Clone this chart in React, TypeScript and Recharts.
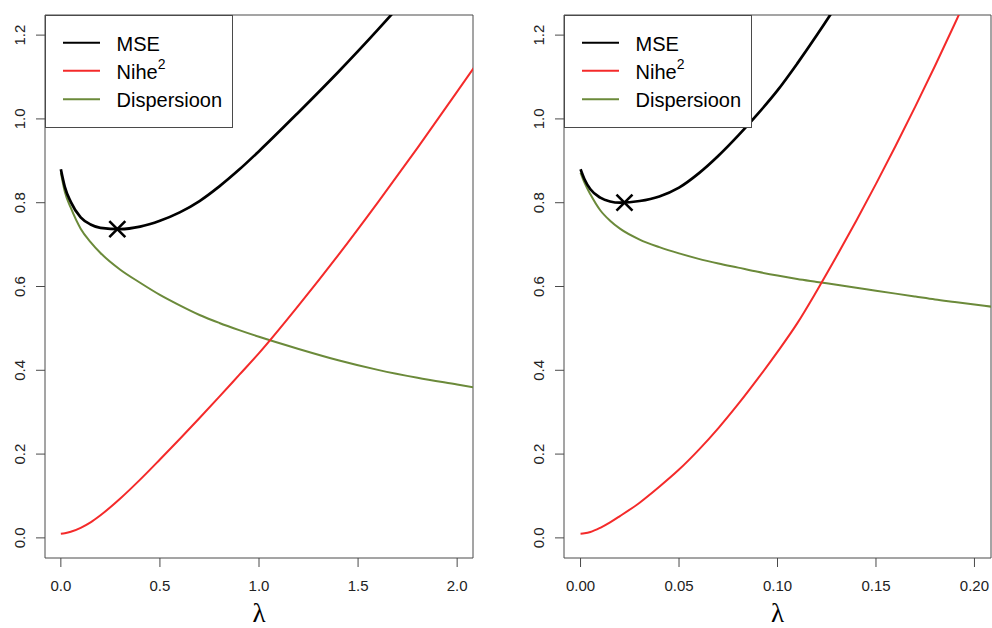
import {
  LineChart,
  Line,
  XAxis,
  YAxis,
  Legend,
  ReferenceArea,
  ReferenceDot,
} from 'recharts'

// lambda grid and curves
const lamLeft = [0, 0.02, 0.05, 0.1, 0.15, 0.2, 0.3, 0.4, 0.5, 0.6, 0.7, 0.8, 0.9, 1.0, 1.2, 1.4, 1.6, 1.8, 2.0, 2.1]
const mseLeft = [0.88, 0.838, 0.802, 0.765, 0.748, 0.74, 0.737, 0.743, 0.757, 0.777, 0.804, 0.839, 0.879, 0.923, 1.016, 1.112, 1.213, 1.32, 1.432, 1.49]
const biasLeft = [0.01, 0.0113, 0.0145, 0.024, 0.037, 0.054, 0.094, 0.139, 0.187, 0.236, 0.286, 0.337, 0.389, 0.441, 0.555, 0.675, 0.801, 0.931, 1.065, 1.133]
const dispLeft = [0.872, 0.826, 0.788, 0.738, 0.706, 0.68, 0.64, 0.609, 0.58, 0.555, 0.532, 0.513, 0.496, 0.48, 0.451, 0.424, 0.401, 0.382, 0.366, 0.358]

// right panel (smaller lambda range)
const lamRight = [0, 0.002, 0.005, 0.01, 0.015, 0.02, 0.03, 0.04, 0.05, 0.06, 0.07, 0.08, 0.09, 0.1, 0.11, 0.12, 0.13, 0.14, 0.15, 0.16, 0.17, 0.18, 0.19, 0.2, 0.21]
const mseRight = [0.88, 0.856, 0.832, 0.812, 0.803, 0.8, 0.804, 0.815, 0.836, 0.87, 0.912, 0.96, 1.012, 1.068, 1.132, 1.2, 1.272, 1.35, 1.432, 1.519, 1.606, 1.696, 1.79, 1.887, 1.987]
const biasRight = [0.01, 0.011, 0.014, 0.024, 0.037, 0.052, 0.084, 0.122, 0.163, 0.21, 0.262, 0.319, 0.38, 0.444, 0.512, 0.59, 0.672, 0.757, 0.845, 0.936, 1.03, 1.127, 1.227, 1.33, 1.436]
const dispRight = [0.872, 0.848, 0.82, 0.782, 0.757, 0.738, 0.712, 0.694, 0.679, 0.666, 0.655, 0.645, 0.635, 0.626, 0.618, 0.611, 0.604, 0.597, 0.59, 0.583, 0.576, 0.569, 0.563, 0.557, 0.551]

const xTicksLeft = [0, 0.5, 1.0, 1.5, 2.0]
const xTicksRight = [0, 0.05, 0.1, 0.15, 0.2]
const yTicks = [0, 0.2, 0.4, 0.6, 0.8, 1.0, 1.2]

// minimum MSE markers
const minLeft = { lam: 0.285, mse: 0.737 }
const minRight = { lam: 0.0223, mse: 0.8 }

const seriesNames = ['MSE', 'Nihe', 'Dispersioon']
const seriesColors = ['#000000', '#f42a2a', '#6b8a3a']

const FONT = '"Liberation Sans", Arial, sans-serif'
const FRAME = '#4a4a4a'

function makeRows(lam: number[], mse: number[], bias: number[], disp: number[]) {
  return lam.map((l, i) => ({ lam: l, mse: mse[i], bias: bias[i], disp: disp[i] }))
}

const YTick = (props: any) => {
  const { x, y, payload } = props
  return (
    <text
      x={0}
      y={0}
      transform={`translate(${x - 11},${y}) rotate(-90)`}
      textAnchor="middle"
      fontSize={15}
      fontFamily={FONT}
      fill="#222"
    >
      {Number(payload.value).toFixed(1)}
    </text>
  )
}

const Cross = (props: any) => {
  const { cx, cy } = props
  const s = 8
  return (
    <path
      d={`M${cx - s},${cy - s}L${cx + s},${cy + s}M${cx - s},${cy + s}L${cx + s},${cy - s}`}
      stroke="#000"
      strokeWidth={2.6}
      fill="none"
    />
  )
}

const LegendBox = () => {
  const rows = [27.7, 55.7, 84.3]
  return (
    <div style={{ width: 188, height: 113, background: '#fff', border: `1px solid ${FRAME}`, boxSizing: 'border-box' }}>
      <svg width={188} height={113} style={{ display: 'block', marginLeft: -1, marginTop: -1 }}>
        {seriesNames.map((name, i) => (
          <g key={name}>
            <line x1={18} x2={55} y1={rows[i]} y2={rows[i]} stroke={seriesColors[i]} strokeWidth={2} />
            <text x={71.5} y={rows[i] + 8} fontSize={20} fontFamily={FONT} fill="#000">
              {name}
              {name === 'Nihe' && (
                <tspan fontSize={14} dy={-10}>2</tspan>
              )}
            </text>
          </g>
        ))}
      </svg>
    </div>
  )
}

interface PanelProps {
  rows: { lam: number; mse: number; bias: number; disp: number }[]
  left: number
  width: number
  rightMargin: number
  xDomain: [number, number]
  xTicks: number[]
  digits: number
  min: { lam: number; mse: number }
}

function Panel({ rows, left, width, rightMargin, xDomain, xTicks, digits, min }: PanelProps) {
  const yDomain: [number, number] = [-0.048, 1.248]
  return (
    <div style={{ position: 'absolute', left, top: 0 }}>
      <LineChart width={width} height={628} data={rows} margin={{ top: 15, right: rightMargin, bottom: 0, left: 0 }}>
        <XAxis
          dataKey="lam"
          type="number"
          domain={xDomain}
          ticks={xTicks}
          allowDataOverflow
          height={70}
          axisLine={false}
          tickSize={9}
          tickMargin={13}
          tickLine={{ stroke: FRAME }}
          tick={{ fontSize: 15, fill: '#222', fontFamily: FONT }}
          tickFormatter={(v: number) => v.toFixed(digits)}
          label={{ value: 'λ', position: 'insideBottom', offset: 6, fontSize: 27, fill: '#000', fontFamily: '"Liberation Serif", serif' }}
        />
        <YAxis
          type="number"
          domain={yDomain}
          ticks={yTicks}
          allowDataOverflow
          width={45}
          axisLine={false}
          tickSize={9}
          tickMargin={0}
          tickLine={{ stroke: FRAME }}
          tick={<YTick />}
        />
        <ReferenceArea x1={xDomain[0]} x2={xDomain[1]} y1={yDomain[0]} y2={yDomain[1]} fill="none" stroke={FRAME} strokeWidth={1} fillOpacity={0} />
        <Line dataKey="disp" type="monotone" stroke={seriesColors[2]} strokeWidth={2} dot={false} isAnimationActive={false} />
        <Line dataKey="bias" type="monotone" stroke={seriesColors[1]} strokeWidth={2} dot={false} isAnimationActive={false} />
        <Line dataKey="mse" type="monotone" stroke={seriesColors[0]} strokeWidth={2.7} dot={false} isAnimationActive={false} />
        <ReferenceDot x={min.lam} y={min.mse} r={8} shape={<Cross />} />
        <Legend
          layout="horizontal"
          verticalAlign="middle"
          align="center"
          content={<LegendBox />}
          wrapperStyle={{ position: 'absolute', left: 45, top: 15, width: 188, height: 113 }}
        />
      </LineChart>
    </div>
  )
}

export default function App() {
  const rowsLeft = makeRows(lamLeft, mseLeft, biasLeft, dispLeft)
  const rowsRight = makeRows(lamRight, mseRight, biasRight, dispRight)
  return (
    <div style={{ position: 'absolute', left: 0, top: 0, width: 992, height: 628, background: '#fff' }}>
      <Panel rows={rowsLeft} left={0} width={480} rightMargin={7} xDomain={[-0.08, 2.08]} xTicks={xTicksLeft} digits={1} min={minLeft} />
      <Panel rows={rowsRight} left={519} width={473} rightMargin={1} xDomain={[-0.0084, 0.2084]} xTicks={xTicksRight} digits={2} min={minRight} />
    </div>
  )
}
